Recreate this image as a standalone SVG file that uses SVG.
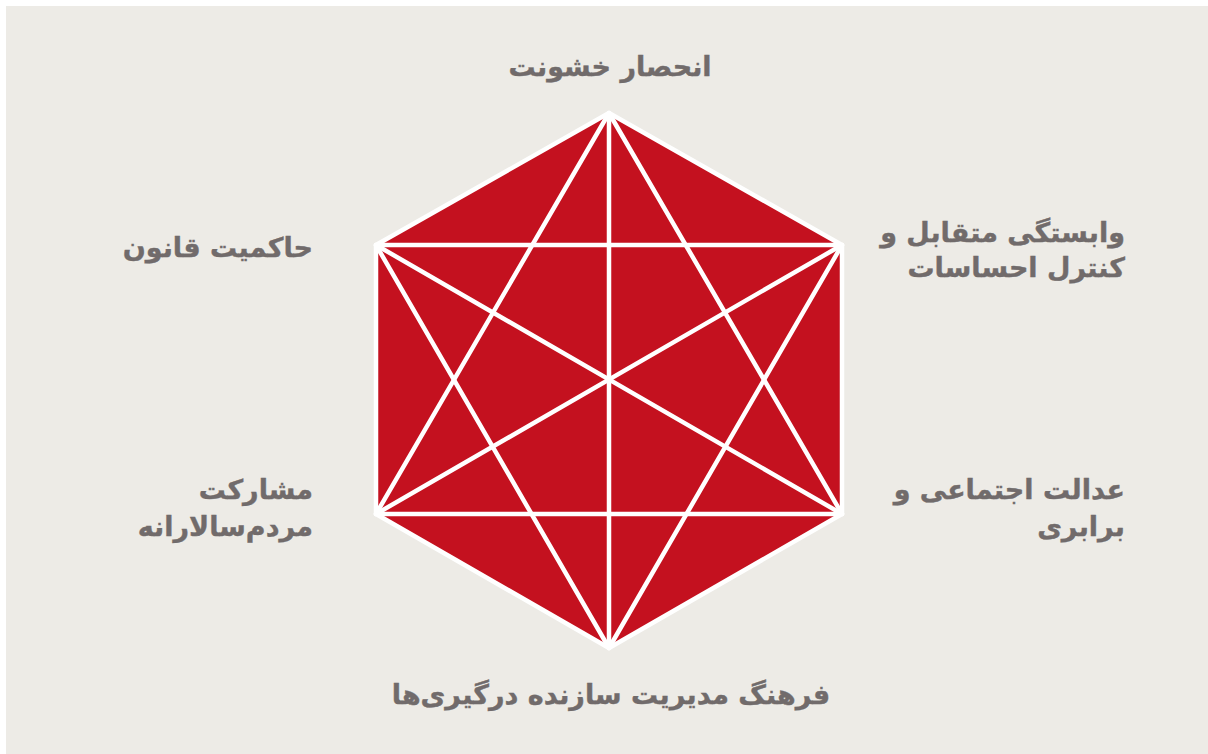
<svg xmlns="http://www.w3.org/2000/svg" width="1208" height="754" viewBox="0 0 1208 754">
<style>
.lbl{font-family:"DejaVu Sans",sans-serif;font-weight:bold;font-size:27px;fill:#716b6b;stroke:#716b6b;stroke-width:0.4}
.ln{stroke:#ffffff;stroke-width:4.5;fill:none;stroke-linecap:round;stroke-linejoin:round}
</style>
<rect x="0" y="0" width="1208" height="754" fill="#ffffff"/>
<rect x="6" y="6" width="1202" height="748" fill="#edebe6"/>
<g id="hexagon">
<polygon points="609,113 842,245 842,514 609,648 376,514 376,245" fill="#c4111f"/>
</g>
<g id="connectors" class="ln">
<polygon points="609,113 842,245 842,514 609,648 376,514 376,245"/>
<line x1="609" y1="113" x2="609" y2="648"/>
<line x1="609" y1="113" x2="842" y2="514"/>
<line x1="609" y1="113" x2="376" y2="514"/>
<line x1="842" y1="245" x2="376" y2="245"/>
<line x1="842" y1="245" x2="376" y2="514"/>
<line x1="842" y1="245" x2="609" y2="648"/>
<line x1="842" y1="514" x2="376" y2="514"/>
<line x1="842" y1="514" x2="376" y2="245"/>
<line x1="609" y1="648" x2="376" y2="245"/>
</g>
<g id="node-top"><text class="lbl" x="610" y="76" text-anchor="middle">انحصار خشونت</text></g>
<g id="node-upper-right"><text class="lbl" x="1125" y="242" text-anchor="end">وابستگی متقابل و</text><text class="lbl" x="1125" y="277" text-anchor="end">کنترل احساسات</text></g>
<g id="node-lower-right"><text class="lbl" x="1125" y="499" text-anchor="end">عدالت اجتماعی و</text><text class="lbl" x="1125" y="536" text-anchor="end">برابری</text></g>
<g id="node-bottom"><text class="lbl" x="611" y="704" text-anchor="middle">فرهنگ مدیریت سازنده درگیری‌ها</text></g>
<g id="node-lower-left"><text class="lbl" x="313" y="499" text-anchor="end">مشارکت</text><text class="lbl" x="313" y="536" text-anchor="end">مردم‌سالارانه</text></g>
<g id="node-upper-left"><text class="lbl" x="313" y="257" text-anchor="end">حاکمیت قانون</text></g>
</svg>
